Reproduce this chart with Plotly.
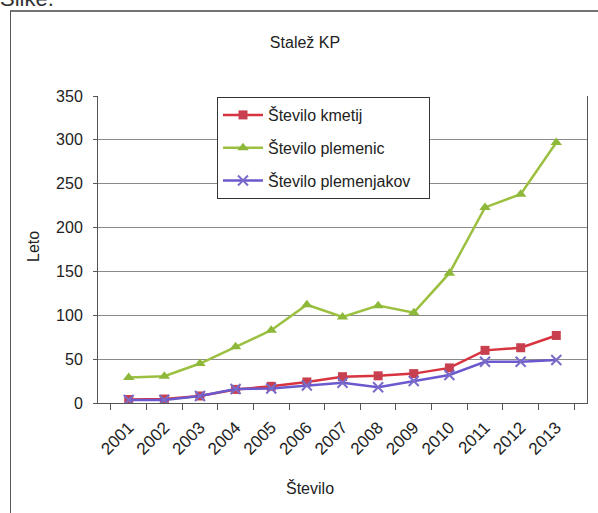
import plotly.graph_objects as go

years = ["2001", "2002", "2003", "2004", "2005", "2006", "2007",
         "2008", "2009", "2010", "2011", "2012", "2013"]
kmetij = [4, 4.5, 8, 15.5, 19, 24, 30, 31, 33.5, 40, 60, 63, 77]
plemenic = [29, 30.5, 45, 64, 83, 112, 98, 111, 103, 148, 223, 238, 297]
plemenjakov = [3.4, 3.5, 8, 16, 16.5, 20, 23, 18, 25, 32, 47, 47, 49]
y_ticks = [0, 50, 100, 150, 200, 250, 300, 350]

FONT = "Liberation Sans, Arial, sans-serif"
PAD = "\u00a0\u00a0\u00a0"

fig = go.Figure()
fig.add_trace(go.Scatter(
    x=years, y=kmetij, name="Število kmetij" + PAD, mode="lines+markers",
    line=dict(color="#D8343F", width=2.5),
    marker=dict(symbol="square", size=9, color="#C8404F"),
    legendgroup="a"))
fig.add_trace(go.Scatter(
    x=years, y=plemenic, name="Število plemenic" + PAD, mode="lines+markers",
    line=dict(color="#9BC040", width=2.5),
    marker=dict(symbol="triangle-up", size=10, color="#8DB83A"),
    legendgroup="b"))
fig.add_trace(go.Scatter(
    x=years, y=plemenjakov, name="Število plemenjakov" + PAD, mode="lines+markers",
    line=dict(color="#6A5ACD", width=2.5),
    marker=dict(symbol="x-thin", size=10, color="#7A6BC8",
                line=dict(width=2, color="#7A6BC8")),
    legendgroup="c"))

W, H = 598, 513
L, R, T, B = 98, 11, 96, 110
pw = W - L - R
ph = H - T - B

def px2paper_x(px):
    return (px - L) / pw

def px2paper_y(py):
    return (H - B - py) / ph

fig.update_layout(
    width=W, height=H,
    margin=dict(l=L, r=R, t=T, b=B),
    paper_bgcolor="white", plot_bgcolor="white",
    font=dict(family=FONT, size=16, color="#222"),
    title=dict(text="Stalež KP", x=305 / W, xanchor="center",
               y=1 - 42 / H, yanchor="middle",
               font=dict(size=16, family=FONT, color="#222")),
    showlegend=True,
    legend=dict(x=px2paper_x(217), y=px2paper_y(97), xanchor="left", yanchor="top",
                bordercolor="#333", borderwidth=1, bgcolor="white",
                font=dict(size=16, family=FONT, color="#222"),
                tracegroupgap=9, itemwidth=40),
    xaxis=dict(type="category", showgrid=False, showline=True,
               linecolor="#555", linewidth=1, ticks="outside",
               tickson="boundaries", ticklen=6, tickcolor="#555",
               tickangle=-45, ticklabelstandoff=7,
               tickfont=dict(size=17, family=FONT, color="#222"),
               mirror=False),
    yaxis=dict(range=[0, 350], tickvals=y_ticks, showgrid=True,
               gridcolor="#8a8a8a", gridwidth=1, showline=True,
               linecolor="#555", linewidth=1, mirror=True, ticks="outside",
               ticklen=4, ticklabelstandoff=7, tickcolor="#555", zeroline=False,
               tickfont=dict(size=16, family=FONT, color="#222")),
)

fig.add_annotation(text="Leto", xref="paper", yref="paper",
                   x=px2paper_x(33), y=px2paper_y(247), textangle=-90,
                   showarrow=False, font=dict(size=16, family=FONT, color="#222"),
                   xanchor="center", yanchor="middle")
fig.add_annotation(text="Število", xref="paper", yref="paper",
                   x=px2paper_x(310), y=px2paper_y(488),
                   showarrow=False, font=dict(size=16, family=FONT, color="#222"),
                   xanchor="center", yanchor="middle")
fig.add_annotation(text="Slike.", xref="paper", yref="paper",
                   x=px2paper_x(-2), y=px2paper_y(13), xanchor="left", yanchor="bottom",
                   showarrow=False, font=dict(size=22, family=FONT, color="#333"))

# outer frame (top and left edges visible)
fig.add_shape(type="line", xref="paper", yref="paper",
              x0=px2paper_x(10), x1=px2paper_x(620),
              y0=px2paper_y(11), y1=px2paper_y(11),
              line=dict(color="#444", width=1.5), layer="above")
fig.add_shape(type="line", xref="paper", yref="paper",
              x0=px2paper_x(10.5), x1=px2paper_x(10.5),
              y0=px2paper_y(11), y1=px2paper_y(540),
              line=dict(color="#555", width=1), layer="above")

fig.write_html("out.html", config={"displayModeBar": False},
               post_script="document.body.style.margin='0px';document.body.style.overflow='hidden';")
